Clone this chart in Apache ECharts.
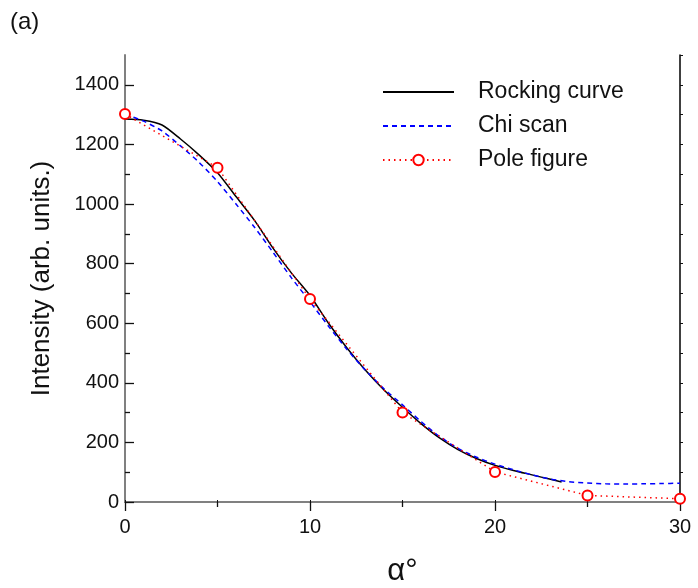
<!DOCTYPE html>
<html>
<head>
<meta charset="utf-8">
<script src="https://cdn.jsdelivr.net/npm/echarts@6/dist/echarts.min.js"></script>
<style>html,body{margin:0;padding:0;background:#fff}#c{width:698px;height:588px}</style>
</head>
<body>
<div id="c"></div>
<script>
// ---- data ----
const rockingAlpha = [0,1,2,3,4,5,6,7,8,9,10,11,12,13,14,15,16,17,18,19,20,21,22,23,23.6];
const rockingVals  = [1285,1281,1265,1218,1165,1105,1025,945,852,768,693,600,517,442,376,318,263,215,176,146,123,106,91,76,67];
const chiAlpha = [0,1,2,3,4,5,6,7,8,9,10,11,12,13,14,15,16,17,18,19,20,21,22,23,24,25,26,27,28,29,30];
const chiVals  = [1302,1278,1245,1195,1140,1075,1000,922,838,752,672,590,512,442,380,326,270,220,180,150,127,108,91,77,68,64,61,60,61,62,63];
const poleAlpha = [0,5,10,15,20,25,30];
const poleVals  = [1302,1122,681,300,101,22,11];
const yMajorTicks = [0,200,400,600,800,1000,1200,1400];
const yMinorTicks = [100,300,500,700,900,1100,1300];
const xTickLabels = [0,10,20,30];
const seriesNames = ['Rocking curve','Chi scan','Pole figure'];

const pairs = (xs, ys) => xs.map((x,i)=>[x, ys[i]]);
const FONT = 'Liberation Sans, Arial, sans-serif';
const GRID = {left:125, right:18, top:55, bottom:86, containLabel:false, outerBoundsMode:'none'};

const chart = echarts.init(document.getElementById('c'), null, {renderer:'canvas'});
chart.setOption({
  animation:false,
  backgroundColor:'#fff',
  title:{text:'(a)', left:5, top:5, textStyle:{fontFamily:FONT, fontSize:24, fontWeight:'normal', color:'#111'}},
  grid:GRID,
  legend:{
    orient:'vertical', left:382, top:80, padding:0,
    itemWidth:71, itemHeight:13, itemGap:10,
    data:[
      {name:seriesNames[0], itemStyle:{opacity:0}},
      {name:seriesNames[1], itemStyle:{opacity:0}},
      {name:seriesNames[2]}
    ],
    textStyle:{fontFamily:FONT, fontSize:23, color:'#111', lineHeight:24, padding:[0,0,0,19]}
  },
  xAxis:[
    {type:'value', min:0, max:30, interval:10, position:'bottom',
     name:'α°', nameLocation:'middle', nameGap:54,
     nameTextStyle:{fontFamily:FONT, fontSize:31, color:'#111'},
     axisLine:{lineStyle:{color:'#808080', width:2}},
     axisTick:{inside:false, length:9, lineStyle:{color:'#111', width:1.3}},
     minorTick:{show:true, splitNumber:2, length:5, lineStyle:{color:'#111', width:1.3}},
     axisLabel:{fontFamily:FONT, fontSize:20, color:'#111', margin:15,
       customValues:xTickLabels, formatter:v=>String(v)},
     splitLine:{show:false}},
    {type:'value', min:0, max:30, interval:10, position:'top',
     axisLine:{lineStyle:{color:'#808080', width:2}},
     axisTick:{show:true, inside:false, length:2, lineStyle:{color:'#111'}},
     minorTick:{show:true, splitNumber:2, length:2, lineStyle:{color:'#111'}},
     axisLabel:{show:false}, splitLine:{show:false}}
  ],
  yAxis:[
    {type:'value', min:0, max:1500, position:'left',
     name:'Intensity (arb. units.)', nameLocation:'middle', nameGap:70, nameRotate:90,
     nameTextStyle:{fontFamily:FONT, fontSize:26, color:'#111'},
     axisLine:{lineStyle:{color:'#808080', width:2}},
     axisTick:{inside:true, length:9, customValues:yMajorTicks, lineStyle:{color:'#111', width:1.3}},
     axisLabel:{fontFamily:FONT, fontSize:20, color:'#111', margin:6, customValues:yMajorTicks,
       formatter:v=>String(v)},
     splitLine:{show:false}},
    {type:'value', min:0, max:1500, position:'left',
     axisLine:{show:false},
     axisTick:{inside:true, length:5, customValues:yMinorTicks, lineStyle:{color:'#111', width:1.3}},
     axisLabel:{show:false}, splitLine:{show:false}},
    {type:'value', min:0, max:1500, position:'right', interval:100,
     axisLine:{lineStyle:{color:'#000', width:1.5}},
     axisTick:{inside:false, length:3, lineStyle:{color:'#111'}},
     axisLabel:{show:false}, splitLine:{show:false}}
  ],
  series:[
    {name:seriesNames[0], type:'line', data:pairs(rockingAlpha, rockingVals),
     symbol:'none', smooth:0.25, color:'#000', lineStyle:{color:'#000', width:1.5}},
    {name:seriesNames[1], type:'line', data:pairs(chiAlpha, chiVals),
     symbol:'none', smooth:0.25, color:'#0000ff', lineStyle:{color:'#0000ff', width:1.5, type:[5,4]}},
    {name:seriesNames[2], type:'line', data:pairs(poleAlpha, poleVals),
     symbol:'emptyCircle', symbolSize:10, color:'#ff0000',
     itemStyle:{color:'#ff0000', borderWidth:1.2},
     lineStyle:{color:'#ff0000', width:1.5, type:[1.5,4]}}
  ]
});
</script>
</body>
</html>
